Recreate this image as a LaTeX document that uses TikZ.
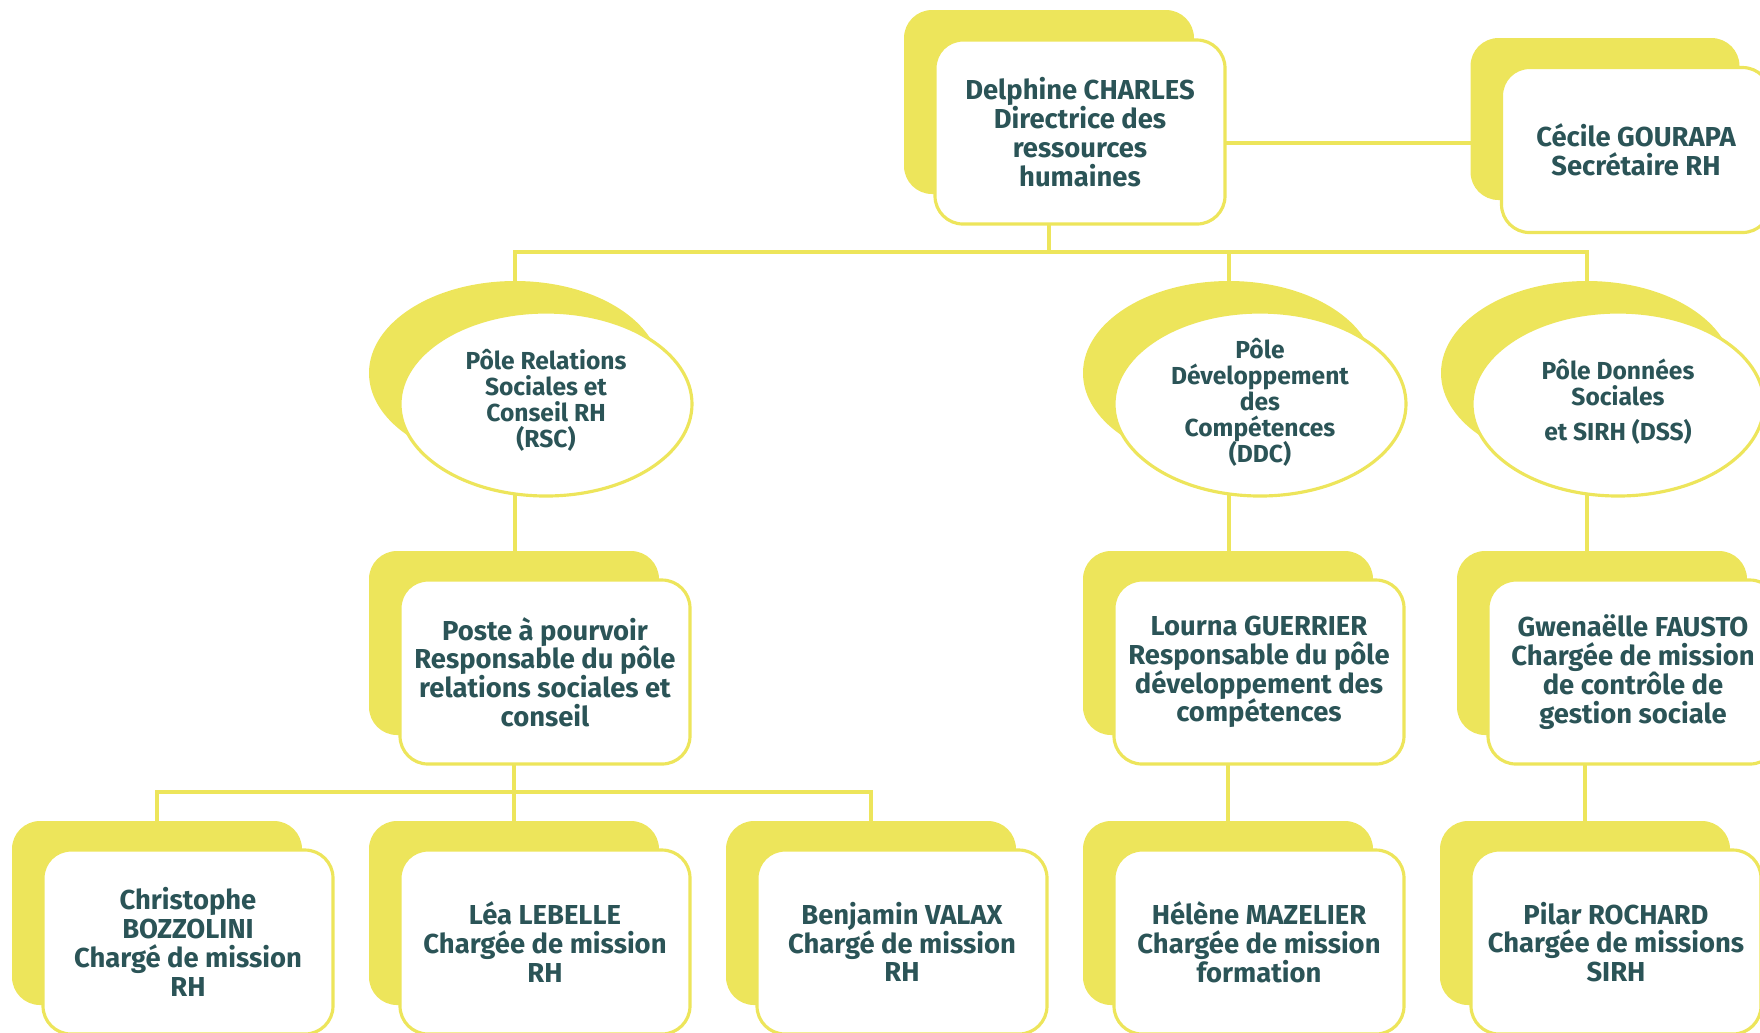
\documentclass[tikz,border=0pt]{standalone}
\usepackage{fontspec}
\setmainfont{Fira Sans}
\usetikzlibrary{shapes.geometric,backgrounds}
\definecolor{hryellow}{HTML}{EDE55B}
\definecolor{hrteal}{HTML}{2B5457}
\newcommand\tightlines{\lineskiplimit=-5pt\relax}

\begin{document}
\begin{tikzpicture}[
  back/.style={fill=hryellow, rounded corners=0.28cm, minimum width=2.9cm, minimum height=1.84cm, inner sep=0pt},
  card/.style={draw=hryellow, line width=0.9pt, fill=white, rounded corners=0.28cm, minimum width=2.9cm, minimum height=1.84cm, inner sep=0pt, align=center, text=hrteal, font=\bfseries\fontsize{7.8}{8.2}\selectfont\tightlines},
  bubbleback/.style={ellipse, fill=hryellow, minimum width=2.92cm, minimum height=1.84cm, inner sep=0pt},
  bubble/.style={ellipse, draw=hryellow, line width=0.9pt, fill=white, minimum width=2.92cm, minimum height=1.84cm, inner sep=0pt},
  bubbletext/.style={align=center, text=hrteal, font=\bfseries\fontsize{7}{7.4}\selectfont\tightlines},
  link/.style={draw=hryellow, line width=1.1pt}
]
      \useasboundingbox (0,0) rectangle (17.6,-10.32);
      \clip (0,0) rectangle (17.6,-10.32);
      % direction
      \node[back] (dirb) at (10.49,-1.02) {};
      \node[card] (dirf) at (10.80,-1.32) {Delphine CHARLES\\Directrice des\\ressources\\humaines};
      \node[back, minimum width=2.69cm, minimum height=1.62cm] (secb) at (16.05,-1.19) {};
      \node[card, minimum width=2.69cm, minimum height=1.65cm] (secf) at (16.36,-1.50) {Cécile GOURAPA\\Secrétaire RH};
      % poles
      \node[bubbleback] (rscb) at ( 5.15,-3.73) {};
      \node[bubble]     (rscf) at ( 5.46,-4.04) {};
      \node[bubbletext] (rsct) at ( 5.46,-4.00) {Pôle Relations\\Sociales et\\Conseil RH\\(RSC)};
      \node[bubbleback] (ddcb) at (12.29,-3.73) {};
      \node[bubble]     (ddcf) at (12.60,-4.04) {};
      \node[bubbletext] (ddct) at (12.60,-4.02) {Pôle\\Développement\\des\\Compétences\\(DDC)};
      \node[bubbleback] (dssb) at (15.87,-3.73) {};
      \node[bubble]     (dssf) at (16.18,-4.04) {};
      \node[bubbletext] (dsst) at (16.18,-4.02) {Pôle Données\\Sociales\\[2.5pt]et SIRH (DSS)};
      % responsables
      \node[back] (rscpb) at ( 5.14,-6.43) {};
      \node[card] (rscpf) at ( 5.45,-6.72) {Poste à pourvoir\\Responsable du pôle\\relations sociales et\\conseil};
      \node[back] (lournab) at (12.28,-6.43) {};
      \node[card] (lournaf) at (12.59,-6.72) {Lourna GUERRIER\\Responsable du pôle\\développement des\\compétences};
      \node[back] (gwenb) at (16.02,-6.43) {};
      \node[card] (gwenf) at (16.33,-6.72) {Gwenaëlle FAUSTO\\Chargée de mission\\de contrôle de\\gestion sociale};
      % charges de mission
      \node[back] (christb) at ( 1.57,-9.13) {};
      \node[card] (christf) at ( 1.88,-9.42) {Christophe\\BOZZOLINI\\Chargé de mission\\RH};
      \node[back] (leab) at ( 5.14,-9.13) {};
      \node[card] (leaf) at ( 5.45,-9.42) {Léa LEBELLE\\Chargée de mission\\RH};
      \node[back] (benjb) at ( 8.71,-9.13) {};
      \node[card] (benjf) at ( 9.02,-9.42) {Benjamin VALAX\\Chargé de mission\\RH};
      \node[back] (heleneb) at (12.28,-9.13) {};
      \node[card] (helenef) at (12.59,-9.42) {Hélène MAZELIER\\Chargée de mission\\formation};
      \node[back] (pilarb) at (15.85,-9.13) {};
      \node[card] (pilarf) at (16.16,-9.42) {Pilar ROCHARD\\Chargée de missions\\SIRH};
      \coordinate (topbus) at (0,-2.52);
      \coordinate (rscbus) at (0,-7.92);
      \begin{scope}[on background layer]
      \draw[link] ([yshift=-0.11cm]dirf.center) -- ([yshift=-0.11cm]dirf.center -| secb.center);
      \draw[link] (dirb.center) -- (dirb |- topbus);
      \draw[link] (rscb.center) -- (rscb |- topbus) -- (dssb |- topbus) -- (dssb.center);
      \draw[link] (ddcb.center) -- (ddcb |- topbus);
      \draw[link] (rscb.center) -- (rscb |- rscpb.center);
      \draw[link] (ddcb.center) -- (ddcb |- lournab.center);
      \draw[link] (dssb.center) -- (dssb |- gwenb.center);
      \draw[link] (rscpb.center) -- (rscpb |- rscbus);
      \draw[link] (christb.center) -- (christb |- rscbus) -- (benjb |- rscbus) -- (benjb.center);
      \draw[link] (rscpb |- rscbus) -- (leab.center);
      \draw[link] (lournab.center) -- (heleneb.center);
      \draw[link] (pilarb |- gwenb.center) -- (pilarb.center);
      \end{scope}
    \end{tikzpicture}
\end{document}
